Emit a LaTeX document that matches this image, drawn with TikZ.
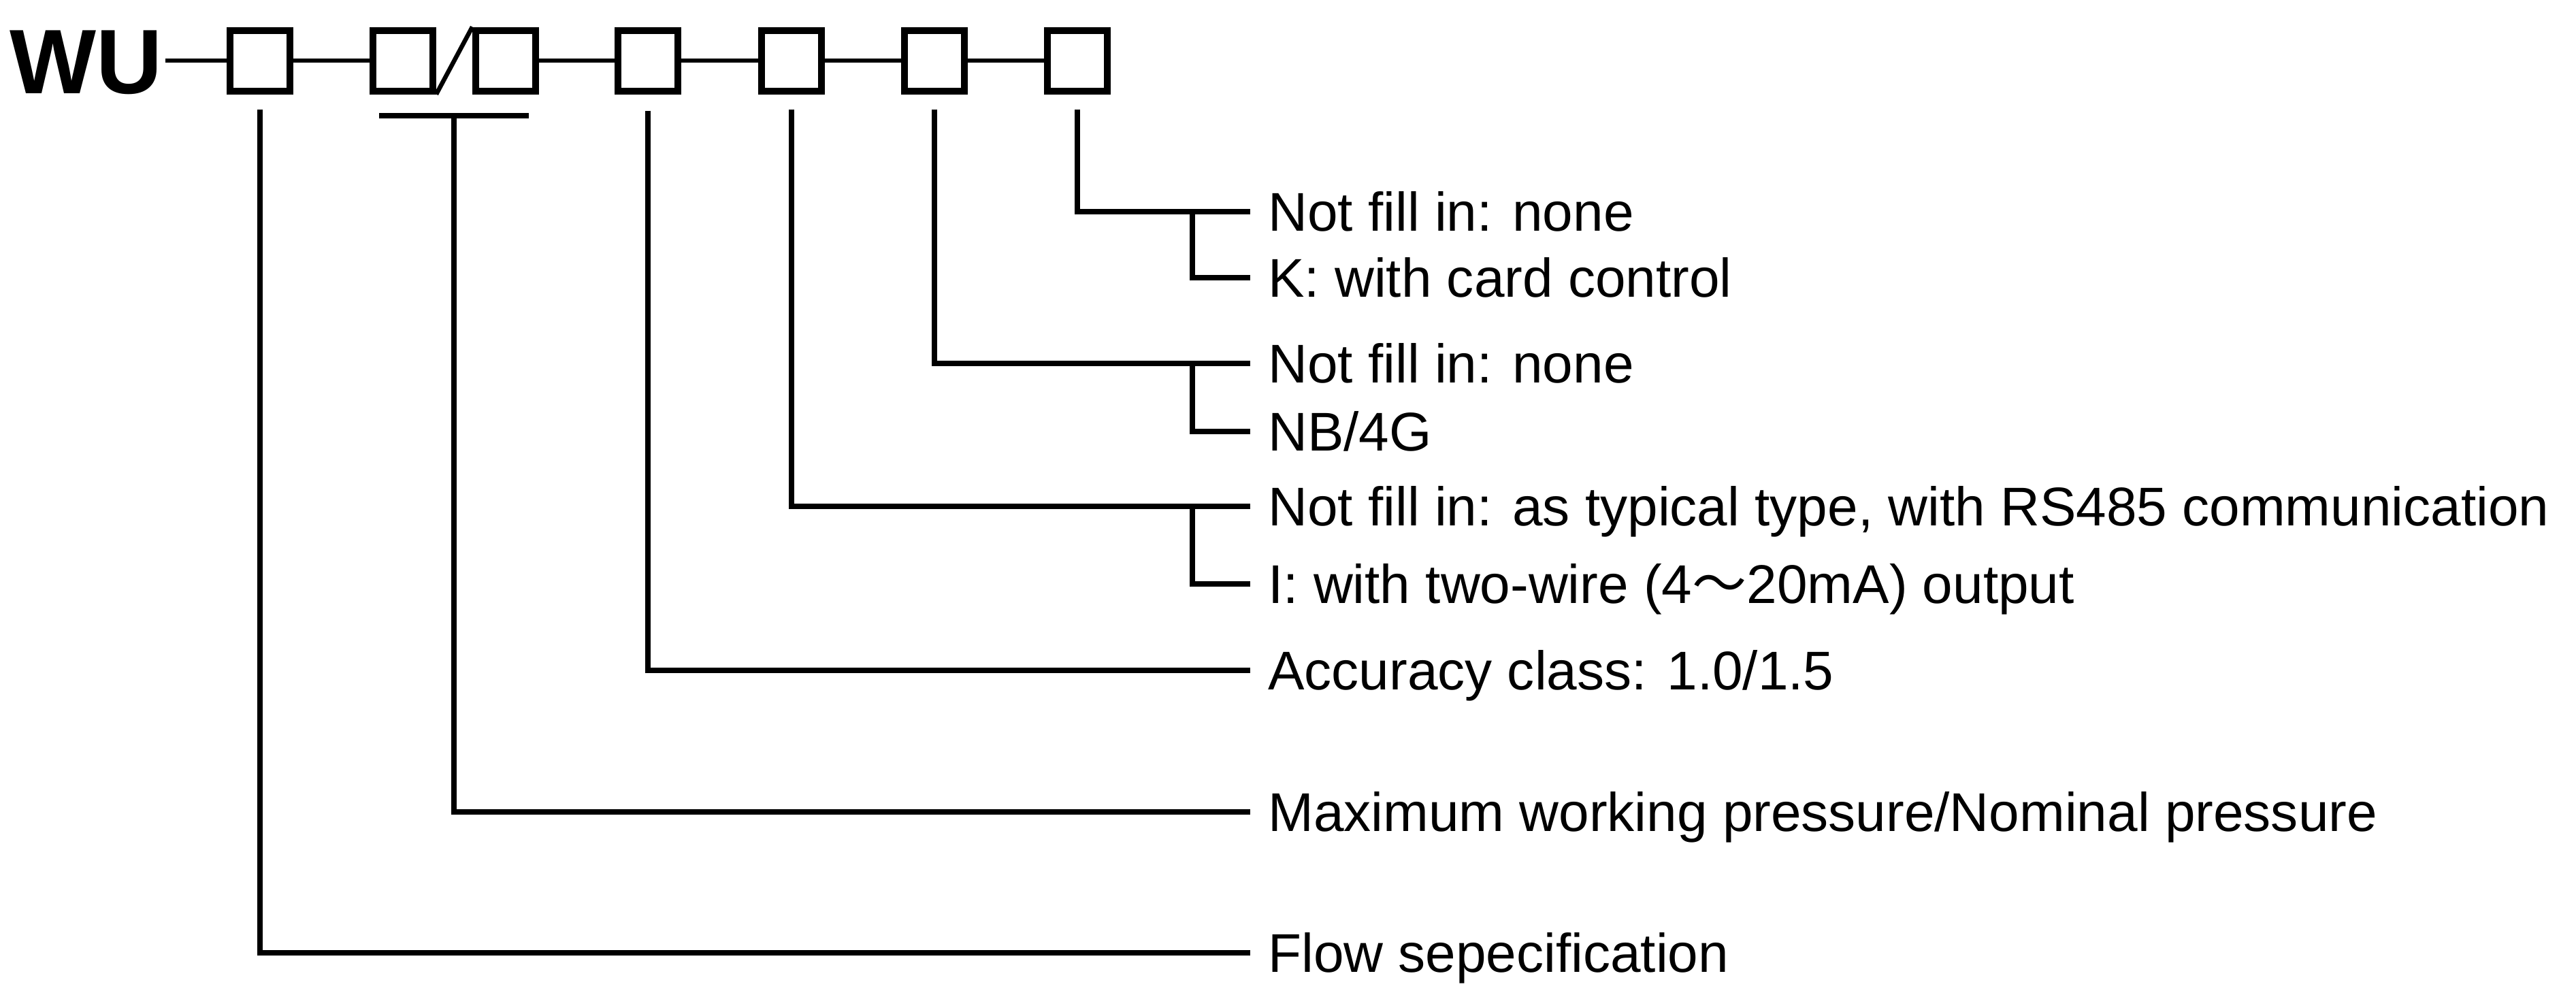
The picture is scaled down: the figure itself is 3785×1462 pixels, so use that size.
\documentclass[tikz,border=0pt]{standalone}
\usepackage{fontspec}
\setmainfont{Liberation Sans}
\newfontfamily\cjk{Noto Sans CJK SC}
\usetikzlibrary{positioning}

\begin{document}
\begin{tikzpicture}[x=0.1mm, y=-0.1mm, line width=0.85mm,
	slot/.style={draw, line width=1mm, minimum width=8.8mm, minimum height=8.9mm, inner sep=0},
	link/.style={line width=0.65mm},
	option/.style={anchor=west, inner xsep=2.2mm, inner ysep=0, text height=16.3pt, text depth=0pt,
		font=\fontsize{22.8}{27}\selectfont}]
	\useasboundingbox (0,0) rectangle (3785,1462);

	\node [anchor=east, inner sep=0, text height=27.4pt, text depth=0pt,
		font=\fontsize{38.3}{40}\selectfont\bfseries] (wu) at (243,89) {WU};

	\node [slot] (b1) at (382,89) {};
	\node [slot] (b2) at (592,89) {};
	\node [slot] (b3) at (743,89) {};
	\node [slot] (b4) at (952,89) {};
	\node [slot] (b5) at (1163,89) {};
	\node [slot] (b6) at (1373,89) {};
	\node [slot] (b7) at (1583,89) {};

	\draw [link] (wu.east) -- (b1) (b1) -- (b2) (b3) -- (b4) (b4) -- (b5) (b5) -- (b6) (b6) -- (b7);
	\draw [link] (b3.north west) -- (b2.south east);

	\node [option] (card0) at (1837,311) {Not fill in: none};
	\node [option] (card1) at (1837,408) {K: with card control};
	\node [option] (net0) at (1837,534) {Not fill in: none};
	\node [option] (net1) at (1837,634) {NB/4G};
	\node [option] (out0) at (1837,744) {Not fill in: as typical type, with RS485 communication};
	\node [option] (out1) at (1837,858) {I: with two-wire (4{\cjk ～}20mA) output};
	\node [option] (acc) at (1837,985) {Accuracy class: 1.0/1.5};
	\node [option] (press) at (1837,1193) {Maximum working pressure/Nominal pressure};
	\node [option] (flow) at (1837,1400) {Flow sepecification};

	\coordinate (fork) at (1752,0);
	\coordinate (bar) at (667,170);

	\draw [shorten <=2.2mm] (b7.south) |- (card0.west);
	\draw (fork |- card0.west) |- (card1.west);
	\draw [shorten <=2.2mm] (b6.south) |- (net0.west);
	\draw (fork |- net0.west) |- (net1.west);
	\draw [shorten <=2.2mm] (b5.south) |- (out0.west);
	\draw (fork |- out0.west) |- (out1.west);
	\draw [shorten <=2.4mm] (b4.south) |- (acc.west);
	\draw ([xshift=-11mm]bar) -- ([xshift=11mm]bar);
	\draw (bar) |- (press.west);
	\draw [shorten <=2.2mm] (b1.south) |- (flow.west);
\end{tikzpicture}
\end{document}
